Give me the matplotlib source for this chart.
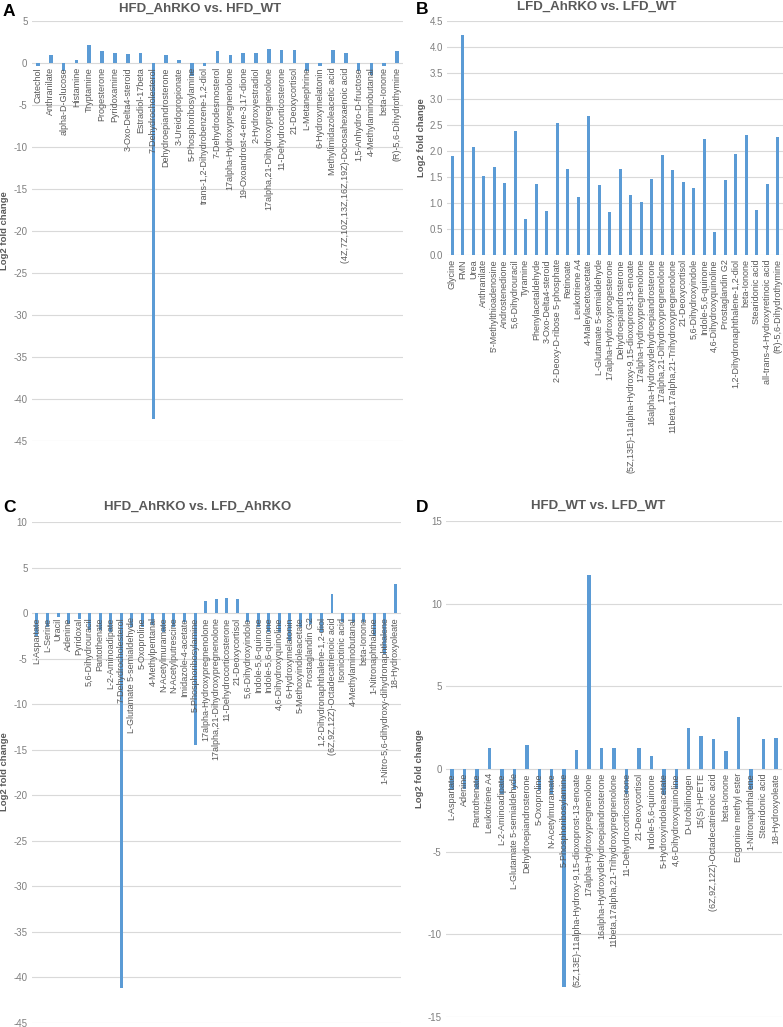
import matplotlib
matplotlib.use("Agg")
import matplotlib.pyplot as plt
from matplotlib.ticker import MultipleLocator, FormatStrFormatter

plt.rcParams["font.family"] = ["Liberation Sans", "DejaVu Sans"]

W, H = 783, 1027
BAR = "#5B9BD5"
GRID = "#D9D9D9"
TXT = "#595959"

# --- data ---

labels_a = [
    "Catechol", "Anthranilate", "alpha-D-Glucose", "Histamine", "Tryptamine",
    "Progesterone", "Pyridoxamine", "3-Oxo-Delta4-steroid", "Estradiol-17beta",
    "7-Dehydrocholesterol", "Dehydroepiandrosterone", "3-Ureidopropionate",
    "5-Phosphoribosylamine", "trans-1,2-Dihydrobenzene-1,2-diol",
    "7-Dehydrodesmosterol", "17alpha-Hydroxypregnenolone",
    "19-Oxoandrost-4-ene-3,17-dione", "2-Hydroxyestradiol",
    "17alpha,21-Dihydroxypregnenolone", "11-Dehydrocorticosterone",
    "21-Deoxycortisol", "L-Metanephrine", "6-Hydroxymelatonin",
    "Methylimidazoleacetic acid",
    "(4Z,7Z,10Z,13Z,16Z,19Z)-Docosahexaenoic acid", "1,5-Anhydro-D-fructose",
    "4-Methylaminobutanal", "beta-Ionone", "(R)-5,6-Dihydrothymine",
]
values_a = [
    -0.4, 1.0, -1.0, 0.3, 2.1, 1.4, 1.2, 1.05, 1.25, -42.4, 0.9, 0.4, -1.6,
    -0.3, 1.4, 1.0, 1.25, 1.25, 1.7, 1.6, 1.6, -1.0, -0.4, 1.6, 1.2, -1.0,
    -1.4, -0.4, 1.4,
]

labels_b = [
    "Glycine", "FMN", "Urea", "Anthranilate", "5'-Methylthioadenosine",
    "Androstenedione", "5,6-Dihydrouracil", "Tyramine", "Phenylacetaldehyde",
    "3-Oxo-Delta4-steroid", "2-Deoxy-D-ribose 5-phosphate", "Retinoate",
    "Leukotriene A4", "4-Maleylacetoacetate", "L-Glutamate 5-semialdehyde",
    "17alpha-Hydroxyprogesterone", "Dehydroepiandrosterone",
    "(5Z,13E)-11alpha-Hydroxy-9,15-dioxoprost-13-enoate",
    "17alpha-Hydroxypregnenolone", "16alpha-Hydroxydehydroepiandrosterone",
    "17alpha,21-Dihydroxypregnenolone",
    "11beta,17alpha,21-Trihydroxypregnenolone", "21-Deoxycortisol",
    "5,6-Dihydroxyindole", "Indole-5,6-quinone", "4,6-Dihydroxyquinoline",
    "Prostaglandin G2", "1,2-Dihydronaphthalene-1,2-diol", "beta-Ionone",
    "Stearidonic acid", "all-trans-4-Hydroxyretinoic acid",
    "(R)-5,6-Dihydrothymine",
]
values_b = [
    1.9, 4.23, 2.08, 1.52, 1.7, 1.38, 2.38, 0.69, 1.37, 0.85, 2.54, 1.65,
    1.12, 2.68, 1.34, 0.82, 1.65, 1.15, 1.01, 1.47, 1.93, 1.64, 1.41, 1.28,
    2.23, 0.45, 1.45, 1.95, 2.31, 0.86, 1.36, 2.27,
]

labels_c = [
    "L-Aspartate", "L-Serine", "Uracil", "Adenine", "Pyridoxal",
    "5,6-Dihydrouracil", "Pantothenate", "L-2-Aminoadipate",
    "7-Dehydrocholesterol", "L-Glutamate 5-semialdehyde", "5-Oxoproline",
    "4-Methylpentanal", "N-Acetylmuramate", "N-Acetylputrescine",
    "Imidazole-4-acetate", "5-Phosphoribosylamine",
    "17alpha-Hydroxypregnenolone", "17alpha,21-Dihydroxypregnenolone",
    "11-Dehydrocorticosterone", "21-Deoxycortisol", "5,6-Dihydroxyindole",
    "Indole-5,6-quinone", "Indole-5,6-quinone", "4,6-Dihydroxyquinoline",
    "6-Hydroxymelatonin", "5-Methoxyindoleacetate", "Prostaglandin G2",
    "1,2-Dihydronaphthalene-1,2-diol", "(6Z,9Z,12Z)-Octadecatrienoic acid",
    "Isonicotinic acid", "4-Methylaminobutanal", "beta-Ionone",
    "1-Nitronaphthalene", "1-Nitro-5,6-dihydroxy-dihydronaphthalene",
    "18-Hydroxyoleate",
]
values_c = [
    -2.5, -1.5, -0.4, -1.2, -0.6, -1.8, -1.8, -2.0, -41.2, -1.5, -1.5, -1.3,
    -2.0, -1.5, -1.0, -14.5, 1.3, 1.6, 1.67, 1.55, -1.0, -1.5, -2.0, -2.0,
    -3.0, -1.5, -1.2, -2.0, 2.1, -1.0, -1.0, -1.0, -2.5, -4.5, 3.26,
]

labels_d = [
    "L-Aspartate", "Adenine", "Pantothenate", "Leukotriene A4",
    "L-2-Aminoadipate", "L-Glutamate 5-semialdehyde", "Dehydroepiandrosterone",
    "5-Oxoproline", "N-Acetylmuramate", "5-Phosphoribosylamine",
    "(5Z,13E)-11alpha-Hydroxy-9,15-dioxoprost-13-enoate",
    "17alpha-Hydroxypregnenolone", "16alpha-Hydroxydehydroepiandrosterone",
    "11beta,17alpha,21-Trihydroxypregnenolone", "11-Dehydrocorticosterone",
    "21-Deoxycortisol", "Indole-5,6-quinone", "5-Hydroxyindoleacetate",
    "4,6-Dihydroxyquinoline", "D-Urobilinogen", "15(S)-HPETE",
    "(6Z,9Z,12Z)-Octadecatrienoic acid", "beta-Ionone",
    "Ecgonine methyl ester", "1-Nitronaphthalene", "Stearidonic acid",
    "18-Hydroxyoleate",
]
values_d = [
    -1.3, -1.2, -1.2, 1.3, -1.5, -1.2, 1.47, -1.3, -1.5, -13.2, 1.17, 11.74,
    1.3, 1.3, -1.5, 1.3, 0.8, -1.6, -1.2, 2.51, 2.0, 1.82, 1.07, 3.12, -1.2,
    1.8, 1.88,
]


def fx(px):
    return px / W


def fy(py):
    return 1 - py / H


def panel(box, labels, values, ylim, step, fmt, letter, letter_xy, title,
          title_xy, ylab_xy):
    left, right, top, bottom = box
    ax = fig.add_axes([fx(left), fy(bottom), fx(right - left), fy(top) - fy(bottom)])
    x = list(range(len(values)))
    ax.bar(x, values, width=0.28, color=BAR, zorder=2)
    ax.set_xlim(-0.5, len(values) - 0.5)
    ax.set_ylim(*ylim)
    ax.yaxis.set_major_locator(MultipleLocator(step))
    ax.yaxis.set_major_formatter(FormatStrFormatter(fmt))
    ax.grid(axis="y", color=GRID, linewidth=0.8, zorder=0)
    ax.set_axisbelow(True)
    ax.set_xticks([])
    ax.tick_params(axis="y", length=0, labelsize=7, labelcolor="#7F7F7F", pad=3)
    for s in ax.spines.values():
        s.set_visible(False)
    for i, lab in enumerate(labels):
        ax.annotate(lab, (i, 0), xytext=(0, -3), textcoords="offset points",
                    rotation=90, ha="center", va="top", fontsize=6.5,
                    color=TXT, zorder=3, annotation_clip=False)
    fig.text(fx(letter_xy[0]), fy(letter_xy[1]), letter, fontsize=12.5,
             fontweight="bold", color="black", ha="left", va="center")
    fig.text(fx(title_xy[0]), fy(title_xy[1]), title, fontsize=9.5,
             fontweight="bold", color=TXT, ha="center", va="center")
    fig.text(fx(ylab_xy[0]), fy(ylab_xy[1]), "Log2 fold change", fontsize=6.8,
             fontweight="bold", color=TXT, rotation=90, ha="center", va="center")
    return ax


fig = plt.figure(figsize=(W / 100, H / 100), dpi=100)

panel((31.6, 403.4, 21, 441), labels_a, values_a, (-45, 5), 5, "%d",
      "A", (3, 12), "HFD_AhRKO vs. HFD_WT", (200, 9), (5, 231))
panel((447, 783, 21, 255), labels_b, values_b, (0, 4.5), 0.5, "%.1f",
      "B", (416, 10), "LFD_AhRKO vs. LFD_WT", (597, 7), (421, 138))
panel((31.7, 400.5, 522.3, 1022.8), labels_c, values_c, (-45, 10), 5, "%d",
      "C", (3, 508), "HFD_AhRKO vs. LFD_AhRKO", (198, 507), (5, 772))
panel((445.8, 782.2, 521, 1017), labels_d, values_d, (-15, 15), 5, "%d",
      "D", (416, 508), "HFD_WT vs. LFD_WT", (598, 506), (420, 769))

plt.savefig("out.png", dpi=100)
plt.close()
